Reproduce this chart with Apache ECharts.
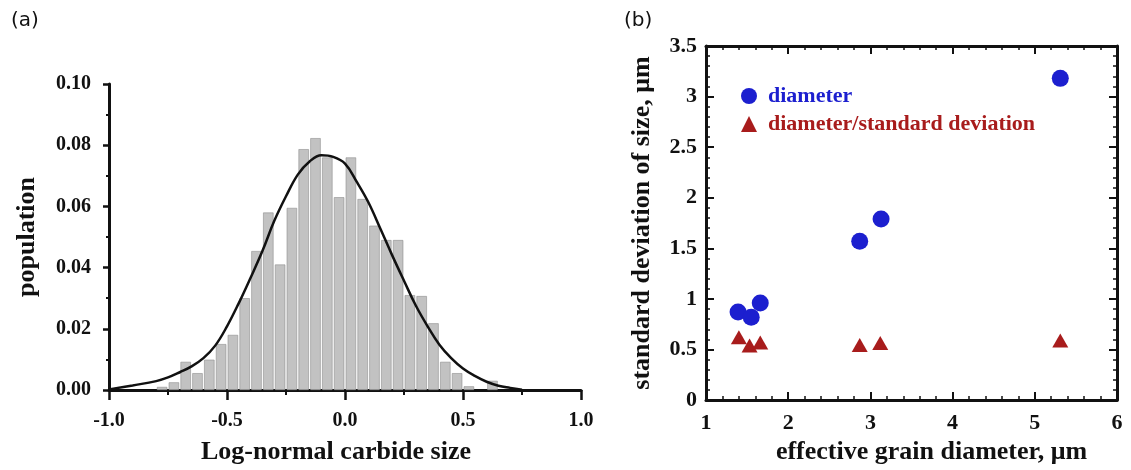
<!DOCTYPE html>
<html>
<head>
<meta charset="utf-8">
<script src="https://cdn.jsdelivr.net/npm/echarts@6/dist/echarts.min.js"></script>
<style>
  html, body { margin: 0; padding: 0; background: #fff; }
  #chart { width: 1131px; height: 470px; }
</style>
</head>
<body>
<div id="chart"></div>
<script>
// (a) histogram, bins of 0.05 from -1.0 to 1.0
const binLabels = [];
for (let i = 0; i < 40; i++) binLabels.push((-1 + i * 0.05).toFixed(2));
const binValues = [
  0, 0, 0, 0, 0.001, 0.0025, 0.0092, 0.0055, 0.0099, 0.015,
  0.018, 0.030, 0.0454, 0.058, 0.041, 0.0595, 0.0787, 0.0823, 0.076, 0.063,
  0.076, 0.0624, 0.0537, 0.049, 0.049, 0.031, 0.0307, 0.0218, 0.0092, 0.0055,
  0.0012, 0, 0.003, 0, 0, 0, 0, 0, 0, 0
];

// fitted curve
const curveX = [-1.0, -0.9, -0.8, -0.75, -0.7, -0.65, -0.6, -0.55, -0.5, -0.45,
  -0.4, -0.35, -0.3, -0.25, -0.2, -0.15, -0.1, -0.05, 0.0, 0.05,
  0.1, 0.15, 0.2, 0.25, 0.3, 0.35, 0.4, 0.45, 0.5, 0.55,
  0.6, 0.65, 0.7, 0.75];
const curveY = [0.0002, 0.0015, 0.0029, 0.0041, 0.0058, 0.0077, 0.0104, 0.0145, 0.0208, 0.0284,
  0.0367, 0.0454, 0.0552, 0.0633, 0.0704, 0.0747, 0.0767, 0.0762, 0.0740, 0.0680,
  0.0612, 0.0527, 0.0440, 0.0357, 0.0276, 0.0208, 0.0148, 0.0104, 0.0070, 0.0046,
  0.0027, 0.0014, 0.0007, 0.0001];

// (b) scatter
const diamX = [1.39, 1.55, 1.66, 2.87, 3.13, 5.31];
const diamY = [0.87, 0.82, 0.96, 1.57, 1.79, 3.18];
const ratioX = [1.40, 1.53, 1.66, 2.87, 3.12, 5.31];
const ratioY = [0.62, 0.54, 0.57, 0.545, 0.565, 0.59];

const serif = "'Liberation Serif', 'Times New Roman', serif";
const ink = '#111';
const blue = '#1c1fcf';
const red = '#a81c1c';

const zip = (xs, ys) => xs.map((x, i) => [x, ys[i]]);

const chart = echarts.init(document.getElementById('chart'));

const boldText = (size) => ({ fontFamily: serif, fontWeight: 'bold', fontSize: size, color: ink });

const frameAxis = (extra) => Object.assign({
  type: 'value',
  gridIndex: 1,
  axisLine: { show: true, onZero: false, lineStyle: { color: ink, width: 3 } },
  axisTick: { show: true, inside: true, length: 8, lineStyle: { color: ink, width: 2 } },
  minorTick: { show: true, splitNumber: 5, length: 4, lineStyle: { color: ink, width: 1.5 } },
  splitLine: { show: false },
  axisLabel: { show: false }
}, extra);

const option = {
  animation: false,
  backgroundColor: '#fff',
  graphic: [
    { type: 'text', left: 11, top: 11, style: { text: '(a)', font: "20px 'DejaVu Sans', sans-serif", fill: ink } },
    { type: 'text', left: 624, top: 11, style: { text: '(b)', font: "20px 'DejaVu Sans', sans-serif", fill: ink } }
  ],
  grid: [
    { left: 109, top: 84, width: 472, height: 307 },
    { left: 706, top: 46, width: 411, height: 357 }
  ],
  legend: {
    orient: 'vertical',
    left: 736,
    top: 80,
    itemWidth: 16,
    itemHeight: 16,
    itemGap: 6,
    textStyle: Object.assign(boldText(22), { padding: [0, 0, 0, 6] }),
    data: [
      { name: 'diameter', icon: 'circle', textStyle: { color: blue } },
      { name: 'diameter/standard deviation', icon: 'triangle', textStyle: { color: red } }
    ]
  },
  xAxis: [
    {
      type: 'category',
      gridIndex: 0,
      position: 'top',
      data: binLabels,
      show: false
    },
    {
      type: 'value',
      gridIndex: 0,
      position: 'bottom',
      min: -1,
      max: 1,
      interval: 0.5,
      name: 'Log-normal carbide size',
      nameLocation: 'middle',
      nameGap: 49,
      nameTextStyle: Object.assign(boldText(26), { padding: [0, 18, 0, 0] }),
      axisLine: { show: true, onZero: false, lineStyle: { color: ink, width: 3 } },
      axisTick: { show: true, length: 10, lineStyle: { color: ink, width: 2.5 } },
      minorTick: { show: true, splitNumber: 2, length: 5, lineStyle: { color: ink, width: 2 } },
      splitLine: { show: false },
      axisLabel: Object.assign(boldText(20), { margin: 21, formatter: v => v.toFixed(1) })
    },
    frameAxis({
      min: 1,
      max: 6,
      interval: 1,
      position: 'bottom',
      name: 'effective grain diameter, μm',
      nameLocation: 'middle',
      nameGap: 37,
      nameTextStyle: Object.assign(boldText(26), { padding: [0, 0, 0, 40] }),
      axisLabel: Object.assign(boldText(22), { show: true, margin: 12 })
    }),
    frameAxis({ min: 1, max: 6, interval: 1, position: 'top' })
  ],
  yAxis: [
    {
      type: 'value',
      gridIndex: 0,
      position: 'left',
      min: 0,
      max: 0.1,
      interval: 0.02,
      name: 'population',
      nameLocation: 'middle',
      nameGap: 69,
      nameTextStyle: boldText(26),
      axisLine: { show: true, onZero: false, lineStyle: { color: ink, width: 3 } },
      axisTick: { show: true, length: 6, lineStyle: { color: ink, width: 2.5 } },
      minorTick: { show: true, splitNumber: 2, length: 3, lineStyle: { color: ink, width: 2 } },
      splitLine: { show: false },
      axisLabel: Object.assign(boldText(20), { margin: 18, formatter: v => v.toFixed(2) })
    },
    frameAxis({
      min: 0,
      max: 3.5,
      interval: 0.5,
      position: 'left',
      name: 'standard deviation of size, μm',
      nameLocation: 'middle',
      nameGap: 51,
      nameTextStyle: boldText(26),
      axisLabel: Object.assign(boldText(22), { show: true, margin: 9 })
    }),
    frameAxis({ min: 0, max: 3.5, interval: 0.5, position: 'right' })
  ],
  series: [
    {
      name: 'histogram',
      type: 'bar',
      xAxisIndex: 0,
      yAxisIndex: 0,
      data: binValues.map(v => (v > 0 ? v : '-')),
      barCategoryGap: '12%',
      itemStyle: { color: '#c2c2c2', borderColor: '#8f8f8f', borderWidth: 0.6 }
    },
    {
      name: 'fit',
      type: 'line',
      xAxisIndex: 1,
      yAxisIndex: 0,
      data: zip(curveX, curveY),
      smooth: 0.4,
      symbol: 'none',
      z: 5,
      lineStyle: { color: ink, width: 2.5 }
    },
    {
      name: 'diameter',
      type: 'scatter',
      xAxisIndex: 2,
      yAxisIndex: 1,
      data: zip(diamX, diamY),
      symbol: 'circle',
      symbolSize: 17,
      itemStyle: { color: blue, opacity: 1 }
    },
    {
      name: 'diameter/standard deviation',
      type: 'scatter',
      xAxisIndex: 2,
      yAxisIndex: 1,
      data: zip(ratioX, ratioY),
      symbol: 'triangle',
      symbolSize: [16, 14],
      itemStyle: { color: red, opacity: 1 }
    }
  ]
};

chart.setOption(option);
</script>
</body>
</html>
